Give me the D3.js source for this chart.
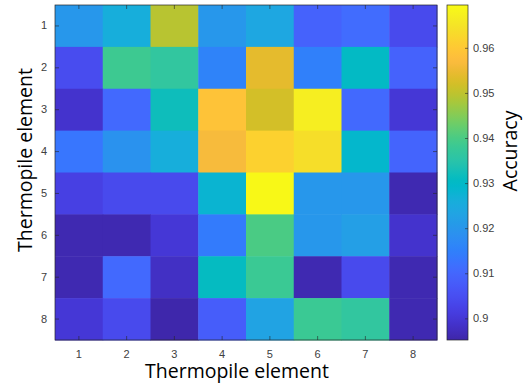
<!DOCTYPE html>
<html>
<head>
<meta charset="utf-8">
<script src="https://cdn.jsdelivr.net/npm/d3@7"></script>
<style>
  html, body { margin: 0; padding: 0; background: #fff; }
  svg { display: block; }
</style>
</head>
<body>
<div id="chart"></div>
<script>
// thermopile pairs, row = y element (top to bottom), col = x element
const elements = [1, 2, 3, 4, 5, 6, 7, 8];
const accuracy = [
  [0.920, 0.926, 0.9494, 0.920, 0.924, 0.909, 0.911, 0.904],
  [0.9045, 0.9385, 0.9365, 0.9155, 0.954, 0.915, 0.9305, 0.909],
  [0.899, 0.9105, 0.932, 0.9589, 0.952, 0.967, 0.9105, 0.900],
  [0.913, 0.919, 0.926, 0.9565, 0.9615, 0.964, 0.929, 0.9095],
  [0.902, 0.904, 0.904, 0.928, 0.969, 0.920, 0.920, 0.896],
  [0.896, 0.896, 0.900, 0.914, 0.940, 0.920, 0.922, 0.899],
  [0.896, 0.9105, 0.898, 0.931, 0.938, 0.896, 0.904, 0.896],
  [0.900, 0.904, 0.8955, 0.908, 0.923, 0.938, 0.9365, 0.896]
];
const colorTicks = [0.90, 0.91, 0.92, 0.93, 0.94, 0.95, 0.96];
const colorDomain = [0.8952, 0.9695];

// matlab parula, 64 entries
const parula = [
  [0.2422,0.1504,0.6603],[0.2504,0.1650,0.7076],[0.2578,0.1818,0.7511],[0.2647,0.1978,0.7952],
  [0.2706,0.2147,0.8364],[0.2751,0.2342,0.8710],[0.2783,0.2559,0.8991],[0.2803,0.2782,0.9221],
  [0.2813,0.3006,0.9414],[0.2810,0.3228,0.9579],[0.2795,0.3447,0.9717],[0.2760,0.3667,0.9829],
  [0.2699,0.3892,0.9906],[0.2602,0.4123,0.9952],[0.2440,0.4358,0.9988],[0.2206,0.4603,0.9973],
  [0.1963,0.4847,0.9892],[0.1834,0.5074,0.9798],[0.1786,0.5289,0.9682],[0.1764,0.5499,0.9520],
  [0.1687,0.5703,0.9359],[0.1540,0.5902,0.9218],[0.1460,0.6091,0.9079],[0.1380,0.6276,0.8973],
  [0.1248,0.6459,0.8883],[0.1113,0.6635,0.8763],[0.0952,0.6798,0.8598],[0.0689,0.6948,0.8394],
  [0.0297,0.7082,0.8163],[0.0036,0.7203,0.7917],[0.0067,0.7312,0.7660],[0.0433,0.7411,0.7394],
  [0.0964,0.7500,0.7120],[0.1408,0.7584,0.6842],[0.1717,0.7670,0.6554],[0.1938,0.7758,0.6251],
  [0.2161,0.7843,0.5923],[0.2470,0.7918,0.5567],[0.2906,0.7973,0.5188],[0.3406,0.8008,0.4789],
  [0.3909,0.8029,0.4354],[0.4456,0.8024,0.3909],[0.5044,0.7993,0.3480],[0.5616,0.7942,0.3045],
  [0.6174,0.7876,0.2612],[0.6720,0.7793,0.2227],[0.7242,0.7698,0.1910],[0.7738,0.7598,0.1646],
  [0.8203,0.7498,0.1535],[0.8634,0.7406,0.1596],[0.9035,0.7330,0.1774],[0.9393,0.7288,0.2100],
  [0.9728,0.7298,0.2394],[0.9956,0.7434,0.2371],[0.9970,0.7659,0.2199],[0.9952,0.7893,0.2028],
  [0.9892,0.8136,0.1885],[0.9786,0.8386,0.1766],[0.9676,0.8639,0.1643],[0.9610,0.8890,0.1537],
  [0.9597,0.9135,0.1423],[0.9628,0.9373,0.1265],[0.9691,0.9606,0.1064],[0.9769,0.9839,0.0805]
];

const W = 527, H = 388;
const plot = { left: 55, right: 437, top: 5, bottom: 340 };
const cbar = { left: 447, right: 468 };
const tickFont = '"Liberation Sans", Arial, sans-serif';
const labelFont = '"Open Sans", sans-serif';
const axisColor = '#262626';

const interp = d3.interpolateRgbBasis(parula.map(c => d3.rgb(c[0] * 255, c[1] * 255, c[2] * 255)));
const color = d3.scaleSequential(interp).domain(colorDomain).clamp(true);

const svg = d3.select('#chart').append('svg').attr('width', W).attr('height', H);

const x = d3.scaleBand().domain(elements).range([plot.left, plot.right]);
const y = d3.scaleBand().domain(elements).range([plot.top, plot.bottom]);

const cells = [];
accuracy.forEach((row, r) => row.forEach((v, c) => cells.push({ row: elements[r], col: elements[c], v })));

svg.append('g')
  .selectAll('rect')
  .data(cells)
  .enter()
  .append('rect')
  .attr('x', d => x(d.col))
  .attr('y', d => y(d.row))
  .attr('width', x.bandwidth() + 0.5)
  .attr('height', y.bandwidth() + 0.5)
  .attr('fill', d => color(d.v));

// axes, matlab style box with inward ticks
const styleAxis = g => {
  g.select('.domain').remove();
  g.selectAll('.tick line').attr('stroke', axisColor).attr('stroke-width', 0.6);
  g.selectAll('.tick text').attr('fill', '#404040').style('font-family', tickFont).style('font-size', '11px');
};

svg.append('g')
  .attr('transform', `translate(0,${plot.bottom})`)
  .call(d3.axisBottom(x).tickSizeInner(-4).tickSizeOuter(0).tickPadding(10))
  .call(styleAxis);
svg.append('g')
  .attr('transform', `translate(0,${plot.top})`)
  .call(d3.axisTop(x).tickSizeInner(-4).tickSizeOuter(0).tickFormat(''))
  .call(styleAxis);
svg.append('g')
  .attr('transform', `translate(${plot.left},0)`)
  .call(d3.axisLeft(y).tickSizeInner(-4).tickSizeOuter(0).tickPadding(8))
  .call(styleAxis);
svg.append('g')
  .attr('transform', `translate(${plot.right},0)`)
  .call(d3.axisRight(y).tickSizeInner(-4).tickSizeOuter(0).tickFormat(''))
  .call(styleAxis);

svg.append('rect')
  .attr('x', plot.left).attr('y', plot.top)
  .attr('width', plot.right - plot.left).attr('height', plot.bottom - plot.top)
  .attr('fill', 'none').attr('stroke', axisColor).attr('stroke-width', 0.7);

svg.append('text')
  .attr('x', 237).attr('y', 378)
  .attr('text-anchor', 'middle')
  .style('font-family', labelFont).style('font-size', '19.5px').attr('fill', '#000')
  .text('Thermopile element');

svg.append('text')
  .attr('transform', 'translate(32,160) rotate(-90)')
  .attr('text-anchor', 'middle')
  .style('font-family', labelFont).style('font-size', '19.5px').attr('fill', '#000')
  .text('Thermopile element');

// colorbar
const cy = d3.scaleLinear().domain(colorDomain).range([plot.bottom, plot.top]);
const defs = svg.append('defs');
const grad = defs.append('linearGradient')
  .attr('id', 'cbgrad').attr('x1', 0).attr('y1', 1).attr('x2', 0).attr('y2', 0);
grad.selectAll('stop')
  .data(d3.range(0, 1.0001, 1 / 63))
  .enter()
  .append('stop')
  .attr('offset', d => d)
  .attr('stop-color', d => interp(Math.min(d, 1)));

svg.append('rect')
  .attr('x', cbar.left).attr('y', plot.top)
  .attr('width', cbar.right - cbar.left).attr('height', plot.bottom - plot.top)
  .attr('fill', 'url(#cbgrad)')
  .attr('stroke', axisColor).attr('stroke-width', 0.7);

svg.append('g')
  .attr('transform', `translate(${cbar.right},0)`)
  .call(d3.axisRight(cy).tickValues(colorTicks).tickFormat(d3.format('')).tickSizeInner(-3).tickSizeOuter(0).tickPadding(5))
  .call(styleAxis);

svg.append('text')
  .attr('transform', 'translate(517,151) rotate(-90)')
  .attr('text-anchor', 'middle')
  .style('font-family', labelFont).style('font-size', '19.5px').attr('fill', '#000')
  .text('Accuracy');
</script>
</body>
</html>
